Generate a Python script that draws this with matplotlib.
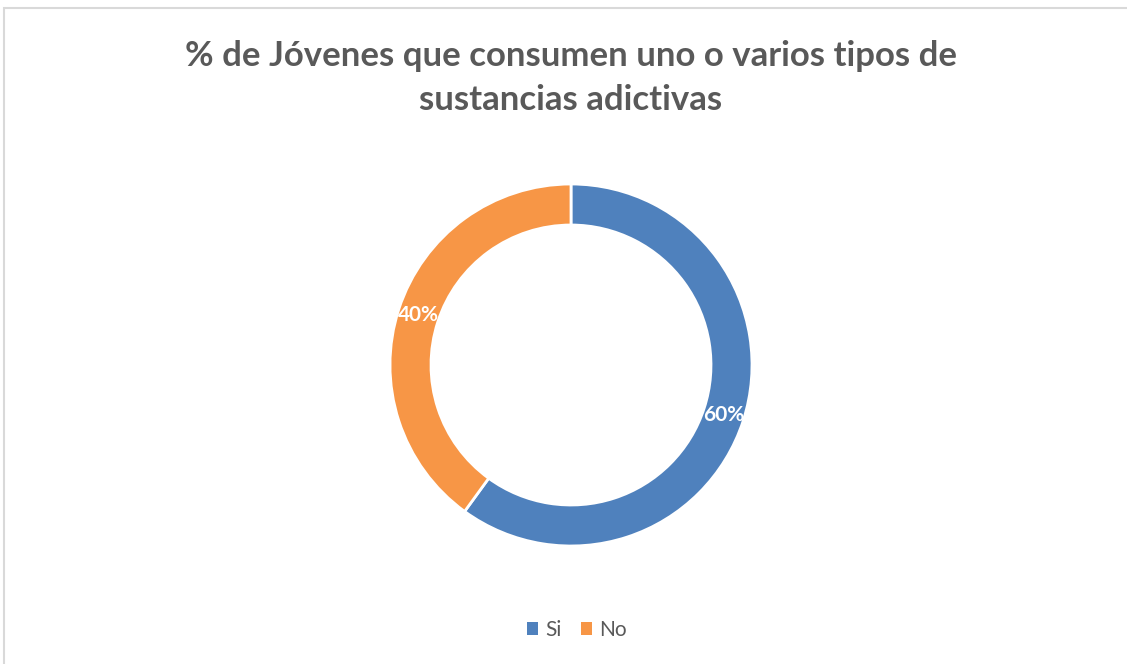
import matplotlib
matplotlib.use("Agg")
import matplotlib.pyplot as plt
from matplotlib.patches import Rectangle
import numpy as np

categories = ["Si", "No"]
values = [60, 40]
colors = ["#4F81BD", "#F79646"]
title = "% de Jóvenes que consumen uno o varios tipos de\nsustancias adictivas"

W, H = 1127, 664
fig = plt.figure(figsize=(W / 100, H / 100), dpi=100)
ax = fig.add_axes([0, 0, 1, 1])

# border
ax.add_patch(Rectangle((3.5, -20), W + 20, H - 7.5 + 20, fill=False,
                       edgecolor="#D9D9D9", linewidth=1.5))

cx, cy, R = 571, H - 365, 181
wedges, _ = ax.pie(values, colors=colors, startangle=90, counterclock=False,
                   center=(cx, cy), radius=R, frame=True,
                   wedgeprops=dict(width=41, edgecolor="white", linewidth=2))
ax.set_xlim(0, W)
ax.set_ylim(0, H)
ax.set_aspect("equal")
ax.axis("off")

total = sum(values)
start = 90.0
for v in values:
    mid = start - 360 * v / total / 2
    r = R - 20.5
    x = cx + r * np.cos(np.radians(mid))
    y = cy + r * np.sin(np.radians(mid))
    ax.text(x, y, f"{v}%", color="white", fontsize=15, fontweight="bold",
            ha="center", va="center", family=["Lato", "DejaVu Sans"])
    start -= 360 * v / total

fig.text(571 / W, 1 - 78 / H, title, ha="center", va="center", fontsize=25,
         fontweight="bold", color="#595959", family=["Lato", "DejaVu Sans"],
         linespacing=1.47)

leg = fig.legend(wedges, categories, loc="center", bbox_to_anchor=(577 / W, 1 - 630 / H),
                 ncol=2, frameon=False, handlelength=0.55, handleheight=0.55,
                 handletextpad=0.35, columnspacing=0.9,
                 prop=dict(family=["Lato", "DejaVu Sans"], size=15))
for t in leg.get_texts():
    t.set_color("#595959")
for h in leg.legend_handles:
    h.set_edgecolor("none")

fig.savefig("out.png", dpi=100)
